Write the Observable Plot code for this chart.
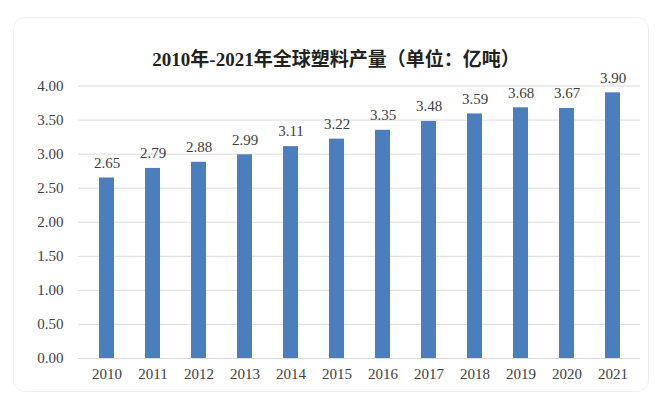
<!DOCTYPE html>
<html>
<head>
<meta charset="utf-8">
<script src="https://cdn.jsdelivr.net/npm/d3@7"></script>
<script src="https://cdn.jsdelivr.net/npm/@observablehq/plot@0.6"></script>
<style>
  html, body { margin: 0; padding: 0; background: #fff; }
  body { width: 656px; height: 397px; position: relative; overflow: hidden; }
  #frame { position: absolute; left: 13px; top: 17px; width: 636px; height: 375px;
           border: 1px solid #efefef; border-radius: 12px; box-sizing: border-box; }
  #title { position: absolute; left: 0; width: 672px; top: 47px; text-align: center;
           font-family: "Liberation Serif", "Noto Sans CJK SC", serif; font-weight: bold;
           font-size: 19px; color: #222; line-height: 26px; white-space: nowrap; }
  #chart { position: absolute; left: 0; top: 70px; }
</style>
</head>
<body>
<div id="frame"></div>
<div id="title">2010年-2021年全球塑料产量（单位：亿吨）</div>
<div id="chart"></div>
<script>
const years = ["2010","2011","2012","2013","2014","2015","2016","2017","2018","2019","2020","2021"];
const production = [2.65, 2.79, 2.88, 2.99, 3.11, 3.22, 3.35, 3.48, 3.59, 3.68, 3.67, 3.90];
const yTicks = [0, 0.5, 1, 1.5, 2, 2.5, 3, 3.5, 4];

const data = years.map((y, i) => ({year: y, value: production[i]}));

const chart = Plot.plot({
  width: 656,
  height: 327,
  marginLeft: 78,
  marginRight: 16,
  marginTop: 15.5,
  marginBottom: 39,
  style: {fontFamily: "Liberation Serif, serif", fontSize: "15px", color: "#404040", background: "transparent"},
  x: {domain: years, paddingInner: 0.68, paddingOuter: 0.34, label: null, tickSize: 0, tickPadding: 10},
  y: {domain: [0, 4], ticks: yTicks, tickFormat: d => d.toFixed(2), label: null, tickSize: 0, tickPadding: 15},
  marks: [
    Plot.ruleY(yTicks, {stroke: "#dcdcdc", strokeWidth: 1}),
    Plot.barY(data, {x: "year", y: "value", fill: "#4a7ebd"}),
    Plot.text(data, {x: "year", y: "value", text: d => d.value.toFixed(2), dy: -15, fill: "#404040", fontSize: 15})
  ]
});
document.getElementById("chart").appendChild(chart);
</script>
</body>
</html>
